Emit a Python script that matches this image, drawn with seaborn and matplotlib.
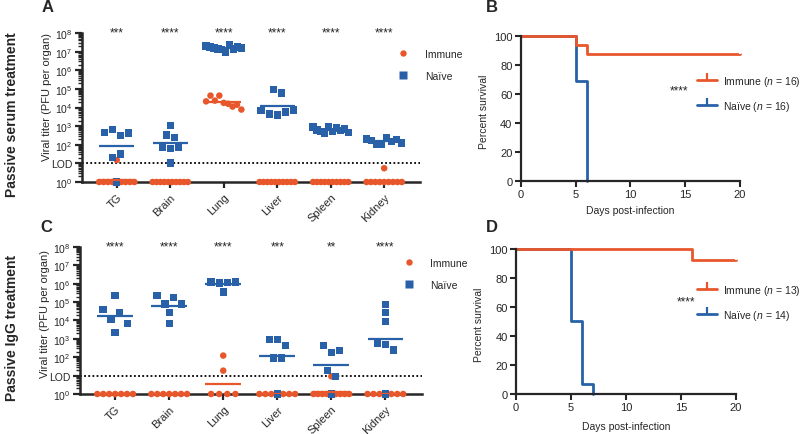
import numpy as np
import pandas as pd
import seaborn as sns
import matplotlib.pyplot as plt
from matplotlib.lines import Line2D
from matplotlib.ticker import FixedLocator, LogLocator, NullFormatter

sns.set_style("ticks")
plt.rcParams['font.family'] = ['Liberation Sans', 'DejaVu Sans']
plt.rcParams['mathtext.fontset'] = 'custom'
plt.rcParams['mathtext.rm'] = 'Liberation Sans'
plt.rcParams['mathtext.it'] = 'Liberation Sans:italic'

IMMUNE = "#E8572C"
NAIVE = "#2861A8"

organs = ["TG", "Brain", "Lung", "Liver", "Spleen", "Kidney"]

# log10 PFU per organ; 0 = below LOD (drawn at 10^0)
a_immune = [
    [1.18, 0, 0, 0, 0, 0, 0, 0, 0, 0],
    [0, 0, 0, 0, 0, 0, 0, 0, 0, 0],
    [4.33, 4.64, 4.37, 4.64, 4.25, 4.2, 4.05, 4.15, 3.89],
    [0, 0, 0, 0, 0, 0, 0, 0, 0, 0],
    [0, 0, 0, 0, 0, 0, 0, 0, 0, 0],
    [0.74, 0, 0, 0, 0, 0, 0, 0, 0, 0],
]
a_naive = [
    [2.67, 2.81, 2.49, 2.63, 1.33, 1.5, 0],
    [3.03, 2.53, 2.4, 1.86, 1.81, 1.85, 1.02],
    [7.3, 7.25, 7.2, 7.15, 7.1, 6.95, 7.35, 7.15, 7.25, 7.2],
    [4.96, 4.77, 3.83, 3.66, 3.6, 3.75, 3.87],
    [2.95, 2.8, 2.7, 2.6, 2.95, 2.7, 2.9, 2.75, 2.85, 2.65],
    [2.3, 2.22, 2.05, 2.0, 2.4, 2.17, 2.27, 2.1],
]
a_stars = ["***", "****", "****", "****", "****", "****"]

c_immune = [
    [0, 0, 0, 0, 0, 0, 0],
    [0, 0, 0, 0, 0, 0, 0],
    [2.09, 1.27, 0, 0, 0, 0],
    [0, 0, 0, 0, 0, 0, 0],
    [0.96, 0, 0, 0, 0, 0, 0, 0, 0, 0],
    [0, 0, 0, 0, 0, 0, 0],
]
c_naive = [
    [5.36, 4.58, 4.04, 4.42, 3.82, 3.36],
    [5.36, 4.9, 5.24, 4.9, 4.42, 3.82],
    [6.1, 6.04, 6.05, 6.1, 5.55],
    [2.95, 2.95, 2.64, 1.96, 1.96, 0],
    [2.64, 2.27, 2.36, 1.27, 0.96, 0],
    [4.87, 4.42, 3.96, 2.78, 2.69, 2.4, 0],
]
c_stars = ["****", "****", "****", "***", "**", "****"]

# survival curves (percent)
b_days_immune = [0, 5, 6, 20]
b_surv_immune = [100, 93.75, 87.5, 87.5]
b_days_naive = [0, 5, 6]
b_surv_naive = [100, 68.75, 0]
b_n = [16, 16]

d_days_immune = [0, 16, 20]
d_surv_immune = [100, 92.3, 92.3]
d_days_naive = [0, 5, 6, 7]
d_surv_naive = [100, 50, 7.14, 0]
d_n = [13, 14]


def spread(values, max_step=0.15, max_width=0.66, gap=0.4):
    """Simple beeswarm: points with close values share a row and are spread sideways"""
    vals = np.asarray(values, float)
    order = np.argsort(vals, kind="stable")
    offsets = np.zeros(len(vals))
    rows, cur = [], [order[0]]
    for i in order[1:]:
        if vals[i] - vals[cur[-1]] <= gap:
            cur.append(i)
        else:
            rows.append(cur)
            cur = [i]
    rows.append(cur)
    for row in rows:
        row = sorted(row)
        k = len(row)
        if k > 1:
            step = min(max_step, max_width / (k - 1))
            for j, idx in enumerate(row):
                offsets[idx] = (j - (k - 1) / 2) * step
    return offsets


def titer_frame(groups, label):
    recs = []
    for i, (organ, vals) in enumerate(zip(organs, groups)):
        for v, o in zip(vals, spread(vals)):
            recs.append({"organ": organ, "x": i + o, "titer": 10.0 ** v, "group": label})
    return pd.DataFrame(recs)


def titer_panel(ax, immune, naive, stars, ylab_y):
    df = pd.concat([titer_frame(immune, "Immune"), titer_frame(naive, "Naïve")], ignore_index=True)
    sns.scatterplot(data=df, x="x", y="titer", hue="group", style="group", size="group",
                    palette={"Immune": IMMUNE, "Naïve": NAIVE},
                    markers={"Immune": "o", "Naïve": "s"},
                    sizes={"Immune": 22, "Naïve": 28},
                    edgecolor="none", linewidth=0, legend=False,
                    clip_on=False, zorder=3, ax=ax)
    # geometric means
    for i, (im, nv) in enumerate(zip(immune, naive)):
        ax.hlines(10 ** np.mean(im), i - 0.33, i + 0.33, color=IMMUNE, lw=1.6, zorder=3)
        ax.hlines(10 ** np.mean(nv), i - 0.33, i + 0.33, color=NAIVE, lw=1.6, zorder=3)
    ax.axhline(10, color="black", ls=(0, (1, 1.3)), lw=1.3, zorder=1)

    ax.set_yscale("log")
    ax.set_ylim(1, 1e8)
    ax.set_xlim(-0.65, 5.67)
    ax.yaxis.set_major_locator(FixedLocator([10.0 ** k for k in range(9)]))
    ax.set_yticklabels(["$10^{%d}$" % k if k != 1 else "LOD" for k in range(9)], fontsize=7.5)
    ax.yaxis.set_minor_locator(LogLocator(base=10, subs=np.arange(2, 10), numticks=100))
    ax.yaxis.set_minor_formatter(NullFormatter())
    ax.set_xticks(range(len(organs)))
    ax.set_xticklabels(organs, rotation=45, ha="right", rotation_mode="anchor", fontsize=8)
    ax.tick_params(axis="y", which="major", length=5, width=1.6, pad=2)
    ax.tick_params(axis="y", which="minor", length=3, width=1.0)
    ax.tick_params(axis="x", length=4, width=1.6, pad=3)
    ax.set_xlabel("")
    ax.set_ylabel("Viral titer (PFU per organ)", fontsize=8)
    ax.yaxis.set_label_coords(-0.088, ylab_y)
    for i, s in enumerate(stars):
        ax.text(i, 10 ** 8.05, s, ha="center", va="center", fontsize=8.5, clip_on=False)
    sns.despine(ax=ax)
    for sp in ax.spines.values():
        sp.set_linewidth(1.8)


def titer_legend(fig, ax, left, top, pad):
    handles = [Line2D([0], [0], ls="none", marker="o", ms=4.6, color=IMMUNE, mec="none"),
               Line2D([0], [0], ls="none", marker="s", ms=5.2, color=NAIVE, mec="none")]
    ax.legend(handles, ["Immune", "Naïve"], loc="upper left", frameon=False, fontsize=7.5,
              bbox_to_anchor=(left / 800, 1 - top / 435), bbox_transform=fig.transFigure,
              borderpad=0, borderaxespad=0, handlelength=1.0, handletextpad=pad, labelspacing=1.15)


def survival_panel(fig, ax, di, si, dn, sn, n, star_xy, leg_top, xlab_y):
    sns.lineplot(x=dn, y=sn, drawstyle="steps-post", color=NAIVE, lw=2, ax=ax, clip_on=False)
    sns.lineplot(x=di, y=si, drawstyle="steps-post", color=IMMUNE, lw=2, ax=ax, clip_on=False,
                 marker=2, ms=5, mew=1.6, markevery=[len(di) - 1])
    ax.set_xlim(0, 20)
    ax.set_ylim(0, 100)
    ax.set_xticks([0, 5, 10, 15, 20])
    ax.set_yticks([0, 20, 40, 60, 80, 100])
    ax.tick_params(labelsize=8, length=4, width=1.5, pad=2)
    ax.set_xlabel("Days post-infection", fontsize=7.5)
    ax.set_ylabel("Percent survival", fontsize=7.5)
    ax.xaxis.set_label_coords(0.5, xlab_y)
    ax.yaxis.set_label_coords(-0.145, 0.483)
    ax.text(star_xy[0], star_xy[1], "****", ha="center", va="center", fontsize=8.5)
    handles = [Line2D([0], [0], color=IMMUNE, lw=2, marker=2, ms=5, mew=1.6),
               Line2D([0], [0], color=NAIVE, lw=2, marker=2, ms=5, mew=1.6)]
    ax.legend(handles, ["Immune ($n$ = %d)" % n[0], "Naïve ($n$ = %d)" % n[1]],
              loc="upper left", frameon=False, fontsize=7.5,
              bbox_to_anchor=(697 / 800, 1 - leg_top / 435), bbox_transform=fig.transFigure,
              borderpad=0, borderaxespad=0, handlelength=1.9, handletextpad=0.55, labelspacing=1.05)
    sns.despine(ax=ax)
    for sp in ax.spines.values():
        sp.set_linewidth(1.6)


fig = plt.figure(figsize=(8, 4.35), dpi=100)
ax_a = fig.add_axes([0.1025, 0.5793, 0.4225, 0.3425])
ax_c = fig.add_axes([0.100, 0.092, 0.427, 0.338])
ax_b = fig.add_axes([0.651, 0.5823, 0.274, 0.3333])
ax_d = fig.add_axes([0.645, 0.092, 0.275, 0.3333])

titer_panel(ax_a, a_immune, a_naive, a_stars, 0.574)
titer_legend(fig, ax_a, 397.5, 50, 1.65)
titer_panel(ax_c, c_immune, c_naive, c_stars, 0.551)
titer_legend(fig, ax_c, 403.5, 259, 1.56)

survival_panel(fig, ax_b, b_days_immune, b_surv_immune, b_days_naive, b_surv_naive,
               b_n, (14.4, 62.5), 75, -0.168)
survival_panel(fig, ax_d, d_days_immune, d_surv_immune, d_days_naive, d_surv_naive,
               d_n, (15.45, 64), 284, -0.186)

fig.text(47.5 / 800, 1 - 7.5 / 435, "A", fontsize=12, fontweight="bold", ha="center", va="center")
fig.text(492 / 800, 1 - 7.5 / 435, "B", fontsize=12, fontweight="bold", ha="center", va="center")
fig.text(46.5 / 800, 1 - 227.5 / 435, "C", fontsize=12, fontweight="bold", ha="center", va="center")
fig.text(492 / 800, 1 - 227.5 / 435, "D", fontsize=12, fontweight="bold", ha="center", va="center")
fig.text(12 / 800, 1 - 115 / 435, "Passive serum treatment", fontsize=10, fontweight="bold",
         rotation=90, ha="center", va="center")
fig.text(12 / 800, 1 - 327.5 / 435, "Passive IgG treatment", fontsize=10, fontweight="bold",
         rotation=90, ha="center", va="center")

fig.savefig("out.png", dpi=100)
